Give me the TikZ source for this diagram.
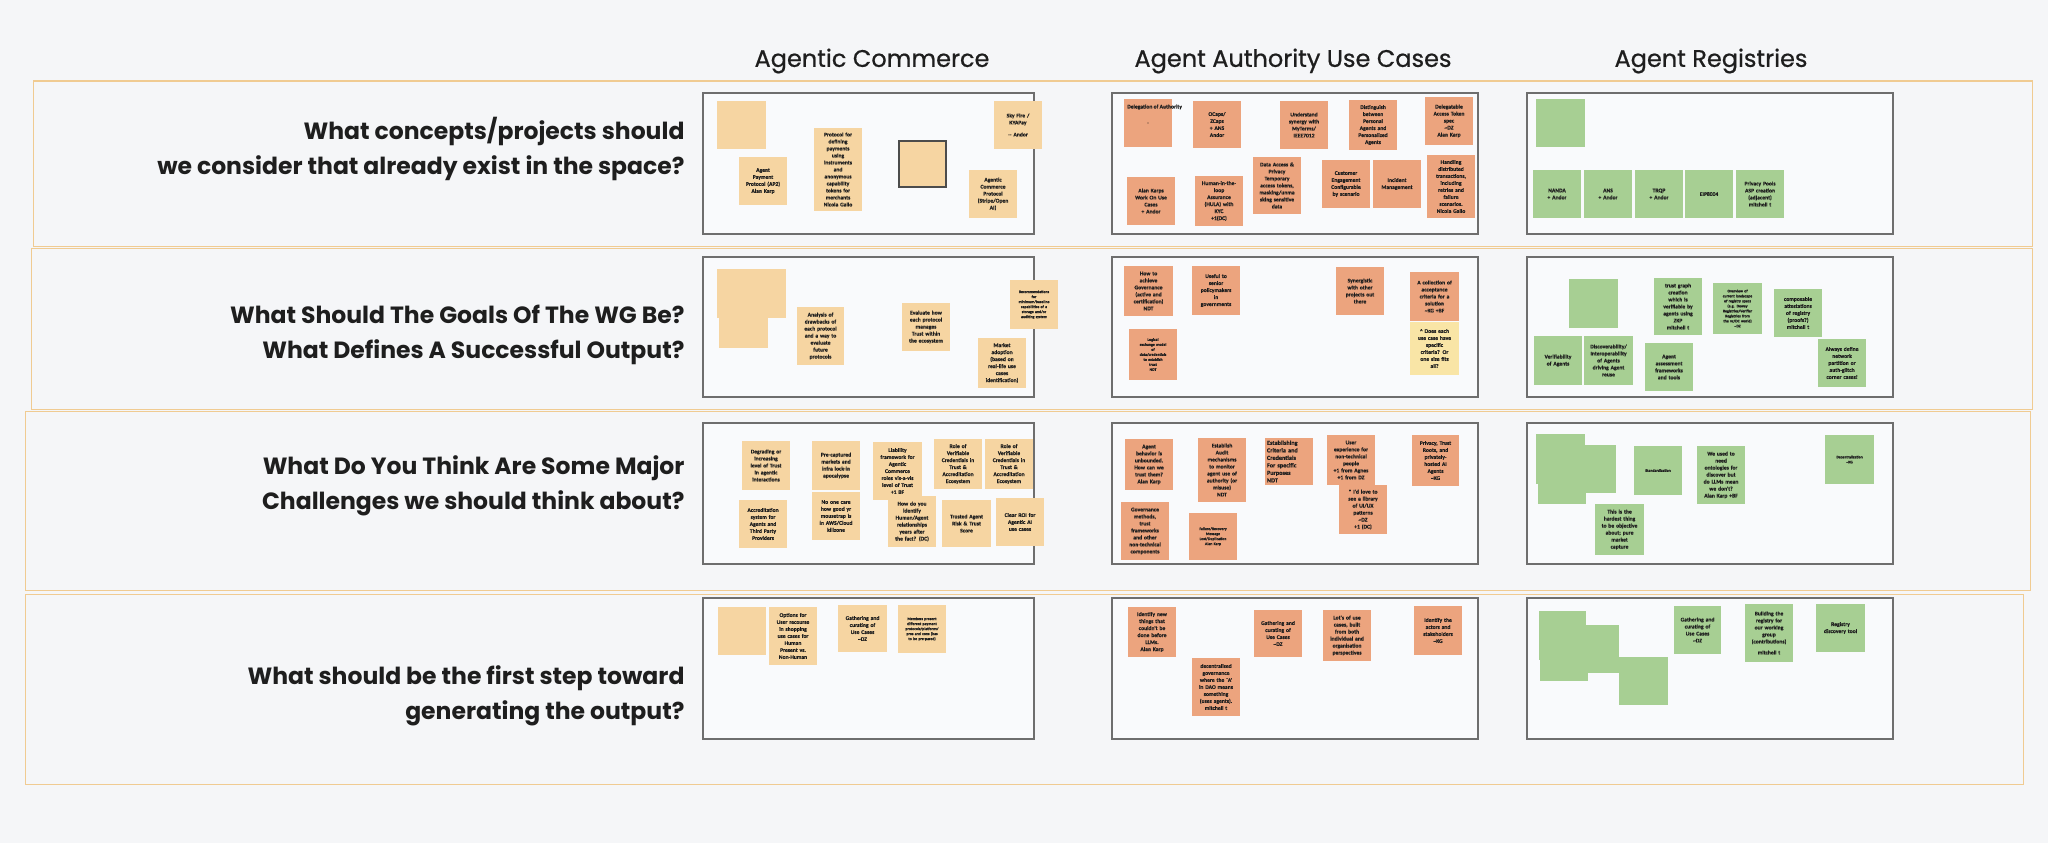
\documentclass[tikz,border=0pt]{standalone}
\usepackage{fontspec}
\setmainfont{Poppins}
\newfontfamily\headfont{Poppins}[FakeBold=0.7]
\newfontfamily\stickyfont{Carlito}[BoldFeatures={FakeBold=0.6}]
\usetikzlibrary{positioning}

\definecolor{pagebg}{HTML}{F5F6F8}
\definecolor{panelbg}{HTML}{F9FAFC}
\definecolor{panelline}{HTML}{6E6E6E}
\definecolor{bandline}{HTML}{F0CB92}
\definecolor{ink}{HTML}{1E1E1E}
\definecolor{commerce}{HTML}{F6D5A2}
\definecolor{authority}{HTML}{ECA47E}
\definecolor{registry}{HTML}{A7CF93}
\definecolor{reply}{HTML}{F9E5A6}

\begin{document}
\begin{tikzpicture}[
  x=1pt, y=-1pt,
  every node/.style={text=ink},
  sticky/.style={
    fill=#1,
    minimum width=48, minimum height=48,
    text width=44,
    inner sep=0pt,
    align=center,
    font=\stickyfont\bfseries\fontsize{5.6}{7}\selectfont
  },
  finetext/.style={font=\stickyfont\bfseries\fontsize{3.9}{5}\selectfont},
  band/.style={draw=bandline, line width=1pt},
  panel/.style={draw=panelline, fill=panelbg, line width=1.3pt},
  heading/.style={font=\headfont\fontsize{24}{28}\selectfont},
  question/.style={anchor=east, align=right, font=\fontsize{23.5}{35}\selectfont\bfseries}
]
\fill[pagebg] (0,0) rectangle (2048,843);

% row bands
\draw[band] (33,81) rectangle (2032,246);
\draw[band] (31,248) rectangle (2032,409);
\draw[band] (25,411) rectangle (2030,590);
\draw[band] (25,594) rectangle (2023,784);

% column headings
\node[heading] (hdcommerce) at (872,61) {Agentic Commerce};
\node[heading] (hdauthority) at (1293,61) {Agent Authority Use Cases};
\node[heading] (hdregistry) at (1711,61) {Agent Registries};

% questions
\node[question] (qconcepts) at (688,149) {What concepts/projects should\\we consider that already exist in the space?};
\node[question] (qgoals) at (688,335) {What Should The Goals Of The WG Be?\\What Defines A Successful Output?};
\node[question] (qchallenges) at (688,486) {What Do You Think Are Some Major\\Challenges we should think about?};
\node[question] (qfirst) at (688,696) {What should be the first step toward\\generating the output?};

% panels
\foreach \top/\bot in {93/234, 257/397, 423/564, 598/739} {
  \draw[panel] (703,\top) rectangle (1034,\bot);
  \draw[panel] (1112,\top) rectangle (1478,\bot);
  \draw[panel] (1527,\top) rectangle (1893,\bot);
}

% ---- Agentic Commerce ----
\node[sticky=commerce, minimum width=49] (acblank) at (741.5,125) {};
\node[sticky=commerce] (acap2) at (763,181) {Agent\\Payment\\Protocol (AP2)\\Alan Karp};
\node[sticky=commerce, minimum height=83] (acproto) at (838,169.5) {Protocol for\\defining\\payments\\using\\instruments\\and\\anonymous\\capability\\tokens for\\merchants\\Nicola Gallo};
\node[sticky=commerce, draw=black!70, line width=1.4pt, minimum width=47, minimum height=46] (acframed) at (922.5,164) {};
\node[sticky=commerce] (acsky) at (1018,125) {Sky Fire /\\KYAPay\\[5pt]-- Andor};
\node[sticky=commerce] (acacp) at (993,194) {Agentic\\Commerce\\Protocol\\(Stripe/Open\\AI)};

\node[sticky=commerce, minimum width=50, minimum height=49] (acgoala) at (742,293.5) {};
\node[sticky=commerce, minimum width=49, minimum height=49] (acgoalc) at (743.5,323.5) {};
\node[sticky=commerce, minimum width=49, minimum height=49] (acgoalb) at (761.5,293.5) {};
\node[sticky=commerce, minimum width=47, minimum height=58] (acdrawback) at (820.5,336) {Analysis of\\drawbacks of\\each protocol\\and a way to\\evaluate\\future\\protocols};
\node[sticky=commerce] (actrust) at (926,327) {Evaluate how\\each protocol\\manages\\Trust within\\the ecosystem};
\node[sticky=commerce, minimum height=49, finetext] (acbaseline) at (1034,304.5) {Recommendations\\for\\minimum/baseline\\capabilities of a\\storage and/or\\auditing system};
\node[sticky=commerce, minimum height=50] (acmarket) at (1002,363) {Market\\adoption\\(based on\\real-life use\\cases\\identification)};

\node[sticky=commerce, minimum height=49] (acdegrade) at (766,465.5) {Degrading or\\increasing\\level of Trust\\in agentic\\interactions};
\node[sticky=commerce, minimum height=49] (aclockin) at (836,465.5) {Pre-captured\\markets and\\infra lock-in\\apocalypse};
\node[sticky=commerce, minimum width=49, minimum height=58] (acliability) at (897.5,471) {Liability\\framework for\\Agentic\\Commerce\\roles vis-a-vis\\level of Trust\\+1 BF};
\node[sticky=commerce, minimum height=50] (acvca) at (958,464) {Role of\\Verifiable\\Credentials in\\Trust \&\\Accreditation\\Ecosystem};
\node[sticky=commerce, minimum height=50] (acvcb) at (1009,464) {Role of\\Verifiable\\Credentials in\\Trust \&\\Accreditation\\Ecosystem};
\node[sticky=commerce] (acaccred) at (763,524) {Accreditation\\system for\\Agents and\\Third Party\\Providers};
\node[sticky=commerce] (acmouse) at (836,516) {No one care\\how good yr\\mousetrap is\\in AWS/Cloud\\killzone};
\node[sticky=commerce, minimum height=51] (acrelation) at (912,521.5) {How do you\\identify\\Human/Agent\\relationships\\years after\\the fact? (DC)};
\node[sticky=commerce, minimum width=49, minimum height=47] (acscore) at (966.5,523.5) {Trusted Agent\\Risk \& Trust\\Score};
\node[sticky=commerce] (acroi) at (1020,522) {Clear ROI for\\Agentic AI\\use cases};

\node[sticky=commerce] (acstart) at (742,631) {};
\node[sticky=commerce, minimum height=58] (acrecourse) at (793,636) {Options for\\User recourse\\in shopping\\use cases for\\Human\\Present vs.\\Non-Human};
\node[sticky=commerce, minimum width=49, minimum height=47] (acgather) at (862.5,628.5) {Gathering and\\curating of\\Use Cases\\\textasciitilde DZ};
\node[sticky=commerce, finetext] (acmembers) at (922,629) {Members present\\different payment\\protocols/platforms'\\pros and cons (has\\to be pre-pared)};

% ---- Agent Authority Use Cases ----
\node[sticky=authority] (audeleg) at (1148,123) {.};
\node[anchor=west, font=\stickyfont\bfseries\fontsize{5.6}{7}\selectfont, inner sep=0pt] (audeleglabel) at (1127,107) {Delegation of Authority};
\node[sticky=authority, minimum height=47] (auocaps) at (1217,124.5) {OCaps/\\ZCaps\\+ ANS\\Andor};
\node[sticky=authority] (aumyterms) at (1304,125) {Understand\\synergy with\\MyTerms/\\IEEE7012};
\node[sticky=authority, minimum height=50] (aupersonal) at (1373,125) {Distinguish\\between\\Personal\\Agents and\\Personalized\\Agents};
\node[sticky=authority] (autoken) at (1449,121) {Delegatable\\Access Token\\spec\\\textasciitilde DZ\\Alan Karp};
\node[sticky=authority] (aukarp) at (1151,201) {Alan Karps\\Work On Use\\Cases\\+ Andor};
\node[sticky=authority, minimum height=50] (auhula) at (1219,201) {Human-in-the-\\loop\\Assurance\\(HULA) with\\KYC\\+1(DC)};
\node[sticky=authority, minimum height=57] (auaccess) at (1277,185.5) {Data Access \&\\Privacy\\Temporary\\access tokens,\\masking/unma\\sking sensitive\\data};
\node[sticky=authority] (aucustomer) at (1346,184) {Customer\\Engagement\\Configurable\\by scenario};
\node[sticky=authority] (auincident) at (1397,184) {Incident\\Management};
\node[sticky=authority, minimum height=63] (auretries) at (1451,186.5) {Handling\\distributed\\transactions,\\including\\retries and\\failure\\scenarios.\\Nicola Gallo};

\node[sticky=authority, minimum width=49, minimum height=50] (augovern) at (1148.5,291) {How to\\achieve\\Governance\\(active and\\certification)\\NDT};
\node[sticky=authority, minimum height=49] (aupolicy) at (1216,290.5) {Useful to\\senior\\policymakers\\in\\governments};
\node[sticky=authority] (ausynergy) at (1360,291) {Synergistic\\with other\\projects out\\there};
\node[sticky=authority, minimum width=49, minimum height=49] (aucriteria) at (1434.5,296.5) {A collection of\\acceptance\\criteria for a\\solution\\\textasciitilde KG +BF};
\node[sticky=reply, minimum width=49, minimum height=53] (aufits) at (1434.5,348.5) {\textasciicircum{} Does each\\use case have\\specific\\criteria? Or\\one size fits\\all?};
\node[sticky=authority, minimum height=51, finetext] (auexchange) at (1153,354.5) {Logical\\exchange model\\of\\data/credentials\\to establish\\trust\\NDT};

\node[sticky=authority, minimum height=51] (auunbound) at (1149,464.5) {Agent\\behavior is\\unbounded.\\How can we\\trust them?\\Alan Karp};
\node[sticky=authority, minimum height=64] (auaudit) at (1222,470) {Establish\\Audit\\mechanisms\\to monitor\\agent use of\\authority (or\\misuse)\\NDT};
\node[sticky=authority, minimum height=47, align=left, font=\stickyfont\bfseries\fontsize{6.2}{7.5}\selectfont] (aupurpose) at (1289,461.5) {Establishing\\Criteria and\\Credentials\\For specific\\Purposes\\NDT};
\node[sticky=authority, minimum height=50] (aunontech) at (1351,460) {User\\experience for\\non-technical\\people\\+1 from Agnes\\+1 from DZ};
\node[sticky=authority, minimum height=49] (aupatterns) at (1363,509.5) {* I'd love to\\see a library\\of UI/UX\\patterns\\\textasciitilde DZ\\+1 (DC)};
\node[sticky=authority, minimum width=47, minimum height=51] (auhosted) at (1435.5,460.5) {Privacy, Trust\\Roots, and\\privately-\\hosted AI\\Agents\\\textasciitilde KG};
\node[sticky=authority, minimum height=58] (aumethods) at (1145,531) {Governance\\methods,\\trust\\frameworks\\and other\\non-technical\\components};
\node[sticky=authority, minimum height=47, finetext] (aufailure) at (1213,536.5) {Failure/Recovery\\Message\\Lost/Duplication\\Alan Karp};

\node[sticky=authority, minimum height=50] (aullms) at (1152,632) {Identify new\\things that\\couldn't be\\done before\\LLMs.\\Alan Karp};
\node[sticky=authority, minimum height=58] (audao) at (1216,687) {decentralised\\governance\\where the `A'\\in DAO means\\something\\(uses agents).\\mitchell t};
\node[sticky=authority, minimum height=47] (augather) at (1278,633.5) {Gathering and\\curating of\\Use Cases\\\textasciitilde DZ};
\node[sticky=authority, minimum height=51] (auperspect) at (1347,635.5) {Lot's of use\\cases, built\\from both\\individual and\\organisation\\perspectives};
\node[sticky=authority, minimum height=49] (auactors) at (1438,630.5) {Identify the\\actors and\\stakeholders\\\textasciitilde KG};

% ---- Agent Registries ----
\node[sticky=registry, minimum width=49] (rgblank) at (1560.5,123) {};
\node[sticky=registry] (rgnanda) at (1557,194) {NANDA\\+ Andor};
\node[sticky=registry] (rgans) at (1608,194) {ANS\\+ Andor};
\node[sticky=registry] (rgtrqp) at (1659,194) {TRQP\\+ Andor};
\node[sticky=registry] (rgeip) at (1709,194) {EIP8004};
\node[sticky=registry] (rgpools) at (1760,194) {Privacy Pools\\ASP creation\\(adjacent)\\mitchell t};

\node[sticky=registry, minimum width=49, minimum height=49] (rggoal) at (1593.5,303.5) {};
\node[sticky=registry, minimum height=57] (rgzkp) at (1678,306.5) {trust graph\\creation\\which is\\verifiable by\\agents using\\ZKP\\mitchell t};
\node[sticky=registry, minimum width=49, minimum height=51, finetext] (rglandscape) at (1737.5,308.5) {Overview of\\current landscape\\of registry specs\\(e.g. Dewey\\Registries/Verifier\\Registries from\\the vc/DC world)\\\textasciitilde DZ};
\node[sticky=registry] (rgproofs) at (1798,313) {composable\\attestations\\of registry\\(proofs?)\\mitchell t};
\node[sticky=registry, minimum height=49] (rgverify) at (1558,360.5) {Verifiability\\of Agents};
\node[sticky=registry, minimum width=49, minimum height=49] (rgdiscover) at (1608.5,360.5) {Discoverability/\\Interoperability\\of Agents\\driving Agent\\reuse};
\node[sticky=registry] (rgassess) at (1669,367) {Agent\\assessment\\frameworks\\and tools};
\node[sticky=registry] (rgpartition) at (1842,363) {Always define\\network\\partition or\\auth-glitch\\corner cases!};

\node[sticky=registry] (rgchalc) at (1562,480) {};
\node[sticky=registry, minimum width=49, minimum height=50] (rgchala) at (1560.5,459) {};
\node[sticky=registry, minimum width=47] (rgchalb) at (1592.5,469) {};
\node[sticky=registry, minimum height=49, finetext] (rgstandard) at (1658,470.5) {Standardization};
\node[sticky=registry, minimum height=58] (rgontology) at (1721,475) {We used to\\need\\ontologies for\\discover but\\do LLMs mean\\we don't?\\Alan Karp +BF};
\node[sticky=registry, minimum width=49, minimum height=51] (rgcapture) at (1619.5,529.5) {This is the\\hardest thing\\to be objective\\about; pure\\market\\capture};
\node[sticky=registry, minimum width=49, minimum height=49, finetext] (rgdecentral) at (1849.5,459.5) {Decentralization\\\textasciitilde KG};

\node[sticky=registry] (rgstepc) at (1564,657) {};
\node[sticky=registry, minimum width=47, minimum height=49] (rgstepa) at (1562.5,635.5) {};
\node[sticky=registry, minimum width=50] (rgstepb) at (1594,649) {};
\node[sticky=registry, minimum width=49] (rgstepd) at (1643.5,681) {};
\node[sticky=registry, minimum width=47] (rggather) at (1697.5,630) {Gathering and\\curating of\\Use Cases\\\textasciitilde DZ};
\node[sticky=registry, minimum height=58] (rgbuild) at (1769,633) {Building the\\registry for\\our working\\group\\(contributions)\\[4pt]mitchell t};
\node[sticky=registry, minimum width=49] (rgtool) at (1840.5,628) {Registry\\discovery tool};
\end{tikzpicture}
\end{document}
